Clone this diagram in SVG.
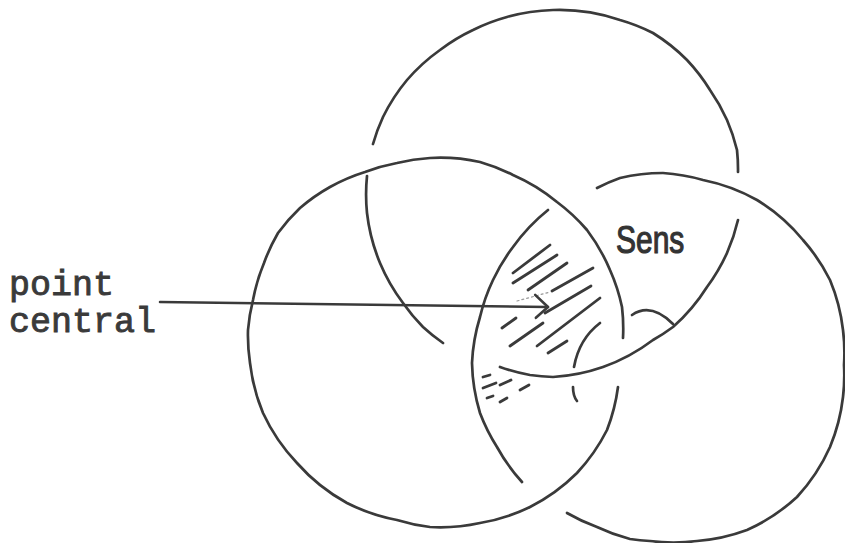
<svg xmlns="http://www.w3.org/2000/svg" width="845" height="543" viewBox="0 0 845 543">
  <defs>
    <style>
      .ring { fill: none; stroke: #3a3a3a; stroke-width: 2.7; stroke-linecap: round; stroke-linejoin: round; }
      .hatch { fill: none; stroke: #3a3a3a; stroke-width: 2.8; stroke-linecap: round; }
      .faint { fill: none; stroke: #9a9a9a; stroke-width: 1.2; stroke-dasharray: 2 3; stroke-linecap: round; }
      .conn { fill: none; stroke: #3a3a3a; stroke-width: 2.6; stroke-linecap: round; }
      .mono { font-family: "Liberation Mono", "Courier New", monospace; font-size: 35px; fill: #3a3a3a; stroke: #3a3a3a; stroke-width: 0.9; }
      .hand { font-family: "Liberation Sans", Arial, sans-serif; font-size: 30px; fill: #333333; stroke: #333333; stroke-width: 0.9; }
    </style>
    <marker id="openV" viewBox="0 0 14 24" refX="13" refY="12" markerWidth="14" markerHeight="24" markerUnits="userSpaceOnUse" orient="auto" overflow="visible">
      <path d="M0,0 L13,12 L1,23" fill="none" stroke="#3a3a3a" stroke-width="2.6" stroke-linecap="round" stroke-linejoin="round"/>
    </marker>
  </defs>
  <rect width="845" height="543" fill="#ffffff"/>

  <g id="ring-top">
    <path class="ring" d="M373,144 A185,185 0 0 1 383,117 A185,185 0 0 1 407,80 A185,185 0 0 1 440,50 A185,185 0 0 1 473,30 A185,185 0 0 1 507,17 A185,185 0 0 1 553,10 A185,185 0 0 1 620,20 A185,185 0 0 1 653,33 A185,185 0 0 1 687,60 A185,185 0 0 1 710,90 A185,185 0 0 1 727,120 A185,185 0 0 1 737,150 A185,185 0 0 1 738,172"/>
    <path class="ring" d="M738,220 A185,185 0 0 1 727,253 A185,185 0 0 1 707,287 A185,185 0 0 1 673,327 A185,185 0 0 1 653,340 A185,185 0 0 1 603,367 A185,185 0 0 1 553,377 A185,185 0 0 1 530,375 A185,185 0 0 1 500,367"/>
    <path class="ring" d="M443,343 A185,185 0 0 1 423,327 A185,185 0 0 1 403,303 A185,185 0 0 1 380,263 A185,185 0 0 1 367,213 A185,185 0 0 1 367,176"/>
  </g>

  <g id="ring-left">
    <path class="ring" d="M618,387 A185,185 0 0 1 607,430 A185,185 0 0 1 577,473 A185,185 0 0 1 530,507 A185,185 0 0 1 480,523 A185,185 0 0 1 430,527 A185,185 0 0 1 397,520 A185,185 0 0 1 347,503 A185,185 0 0 1 297,463 A185,185 0 0 1 263,413 A185,185 0 0 1 250,363 A185,185 0 0 1 248,330 A185,185 0 0 1 253,300 A185,185 0 0 1 264,263 A185,185 0 0 1 278,233 A185,185 0 0 1 300,208 A185,185 0 0 1 330,187 A185,185 0 0 1 365,172 A185,185 0 0 1 397,163 A185,185 0 0 1 430,158 A185,185 0 0 1 480,162 A185,185 0 0 1 513,175 A185,185 0 0 1 557,202 A185,185 0 0 1 587,230 A185,185 0 0 1 610,270 A185,185 0 0 1 622,307 A185,185 0 0 1 623,338"/>
  </g>

  <g id="ring-right">
    <path class="ring" d="M597,188 A185,185 0 0 1 620,178 A185,185 0 0 1 663,173 A185,185 0 0 1 703,180 A185,185 0 0 1 757,200 A185,185 0 0 1 803,240 A185,185 0 0 1 830,280 A185,185 0 0 1 843,330 A185,185 0 0 1 844,365 A185,185 0 0 1 843,397 A185,185 0 0 1 830,447 A185,185 0 0 1 797,497 A185,185 0 0 1 747,530 A185,185 0 0 1 697,541 A185,185 0 0 1 650,541 A185,185 0 0 1 630,539 A185,185 0 0 1 597,527 A185,185 0 0 1 567,513"/>
    <path class="ring" d="M548,210 A185,185 0 0 0 513,247 A185,185 0 0 0 493,280 A185,185 0 0 0 480,317 A185,185 0 0 0 472,363 A185,185 0 0 0 480,413 A185,185 0 0 0 497,447 A185,185 0 0 0 522,482"/>
  </g>

  <g id="central-marks">
    <path class="ring" d="M632,315 Q651,302 673,324"/>
    <path class="ring" d="M600,323 Q579,339 574,367"/>
    <path class="ring" d="M573,387 Q573,396 577,401"/>
    <line class="hatch" x1="513" y1="273" x2="550" y2="245"/>
    <line class="hatch" x1="513" y1="283" x2="557" y2="255"/>
    <line class="hatch" x1="528" y1="290" x2="567" y2="263"/>
    <line class="hatch" x1="552" y1="291" x2="593" y2="268"/>
    <line class="faint" x1="517" y1="301" x2="550" y2="292"/>
    <line class="hatch" x1="545" y1="313" x2="591" y2="286"/>
    <line class="hatch" x1="537" y1="346" x2="600" y2="298"/>
    <line class="hatch" x1="502" y1="328" x2="516" y2="318"/>
    <line class="hatch" x1="510" y1="346" x2="543" y2="323"/>
    <line class="hatch" x1="548" y1="353" x2="567" y2="341"/>
    <line class="hatch" x1="483" y1="377" x2="490" y2="375"/>
    <line class="hatch" x1="483" y1="388" x2="496" y2="383"/>
    <line class="hatch" x1="500" y1="385" x2="511" y2="380"/>
    <line class="hatch" x1="487" y1="398" x2="493" y2="396"/>
    <line class="hatch" x1="500" y1="402" x2="507" y2="398"/>
    <line class="hatch" x1="520" y1="390" x2="529" y2="385"/>
  </g>

  <g id="label-point-central">
    <text class="mono" x="9" y="295">point</text>
    <text class="mono" x="9" y="332">central</text>
  </g>

  <g id="label-sens">
    <text class="hand" transform="translate(616,253) scale(1,1.3)">Sens</text>
  </g>

  <g id="connectors">
    <line class="conn" x1="160" y1="302" x2="548" y2="307" marker-end="url(#openV)"/>
  </g>
</svg>
